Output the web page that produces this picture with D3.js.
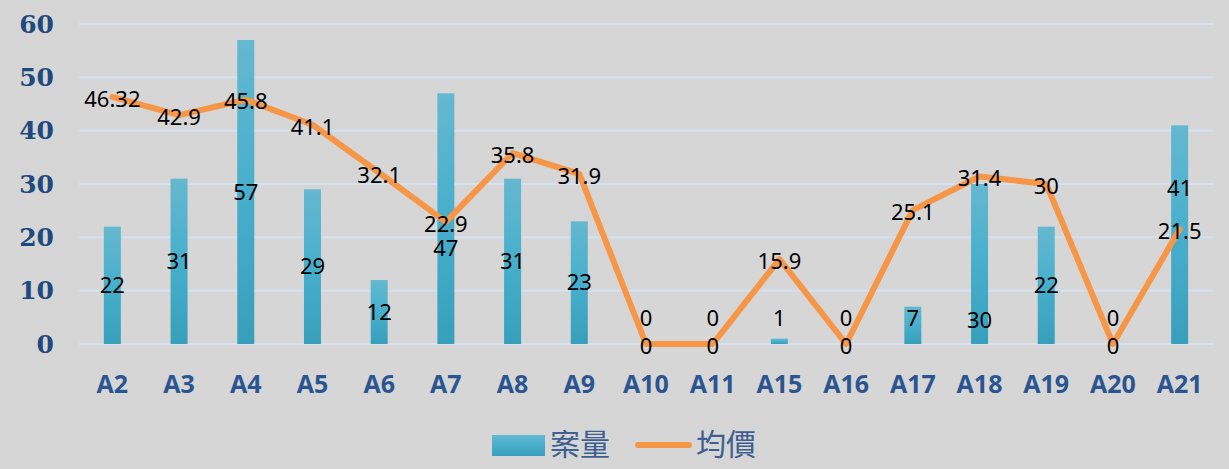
<!DOCTYPE html>
<html>
<head>
<meta charset="utf-8">
<script src="https://cdn.jsdelivr.net/npm/d3@7/dist/d3.min.js"></script>
<style>
  body { margin: 0; background: #d6d6d6; }
  svg { display: block; }
</style>
</head>
<body>
<div id="chart"></div>
<script>
var categories = ["A2", "A3", "A4", "A5", "A6", "A7", "A8", "A9", "A10", "A11", "A15", "A16", "A17", "A18", "A19", "A20", "A21"];
var caseCounts = [22, 31, 57, 29, 12, 47, 31, 23, 0, 0, 1, 0, 7, 30, 22, 0, 41];
var avgPrices = [46.32, 42.9, 45.8, 41.1, 32.1, 22.9, 35.8, 31.9, 0, 0, 15.9, 0, 25.1, 31.4, 30, 0, 21.5];
var yTicks = [0, 10, 20, 30, 40, 50, 60];
var seriesNames = ["案量", "均價"];

// some bar labels were nudged in the original to dodge the line labels (px)
var labelNudge = { A7: 30, A18: 56, A21: -46 };

var width = 1229, height = 469;
var margin = { left: 79, right: 16, top: 24, bottom: 125 };

var svg = d3.select("#chart").append("svg")
    .attr("width", width)
    .attr("height", height);

svg.append("rect").attr("width", width).attr("height", height).attr("fill", "#d6d6d6");

var x = d3.scaleBand()
    .domain(categories)
    .range([margin.left, width - margin.right]);

var y = d3.scaleLinear()
    .domain([0, 60])
    .range([height - margin.bottom, margin.top]);

var defs = svg.append("defs");
var grad = defs.append("linearGradient")
    .attr("id", "barGrad")
    .attr("x1", 0).attr("y1", 0).attr("x2", 0).attr("y2", 1);
grad.append("stop").attr("offset", "0%").attr("stop-color", "#65b8d0");
grad.append("stop").attr("offset", "50%").attr("stop-color", "#47afcc");
grad.append("stop").attr("offset", "100%").attr("stop-color", "#389fbb");

// gridlines
svg.append("g")
    .selectAll("line")
    .data(yTicks)
    .join("line")
    .attr("x1", margin.left)
    .attr("x2", width - margin.right)
    .attr("y1", d => y(d))
    .attr("y2", d => y(d))
    .attr("stroke", "#d3e1f1")
    .attr("stroke-width", 2);

// y axis labels
svg.append("g")
    .selectAll("text")
    .data(yTicks)
    .join("text")
    .attr("x", 54)
    .attr("y", d => y(d))
    .attr("dy", "0.35em")
    .attr("text-anchor", "end")
    .attr("font-family", "DejaVu Serif")
    .attr("font-weight", "bold")
    .attr("font-size", 25)
    .attr("fill", "#1f4a7f")
    .text(d => d);

// x axis labels
svg.append("g")
    .selectAll("text")
    .data(categories)
    .join("text")
    .attr("x", d => x(d) + x.bandwidth() / 2)
    .attr("y", 393)
    .attr("text-anchor", "middle")
    .attr("font-family", "Open Sans")
    .attr("font-weight", "bold")
    .attr("font-size", 25)
    .attr("fill", "#2b5590")
    .text(d => d);

var barW = 17;
var rows = categories.map((c, i) => ({ cat: c, cases: caseCounts[i], price: avgPrices[i] }));

// bars
svg.append("g")
    .selectAll("rect")
    .data(rows)
    .join("rect")
    .attr("x", d => x(d.cat) + x.bandwidth() / 2 - barW / 2)
    .attr("y", d => y(d.cases))
    .attr("width", barW)
    .attr("height", d => y(0) - y(d.cases))
    .attr("fill", "url(#barGrad)");

// line
var line = d3.line()
    .x(d => x(d.cat) + x.bandwidth() / 2)
    .y(d => y(d.price));

svg.append("path")
    .datum(rows)
    .attr("d", line)
    .attr("fill", "none")
    .attr("stroke", "#f79646")
    .attr("stroke-width", 6)
    .attr("stroke-linejoin", "round")
    .attr("stroke-linecap", "round");

// bar labels (centred, but kept above the axis for short bars)
svg.append("g")
    .selectAll("text")
    .data(rows)
    .join("text")
    .attr("x", d => x(d.cat) + x.bandwidth() / 2)
    .attr("y", d => {
        var mid = (y(d.cases) + y(0)) / 2;
        return Math.min(mid, y(0) - 26) + (labelNudge[d.cat] || 0);
    })
    .attr("dy", "0.35em")
    .attr("text-anchor", "middle")
    .attr("font-family", "Noto Sans")
    .attr("font-size", 22)
    .attr("fill", "#000")
    .text(d => d.cases);

// line labels
svg.append("g")
    .selectAll("text")
    .data(rows)
    .join("text")
    .attr("x", d => x(d.cat) + x.bandwidth() / 2)
    .attr("y", d => y(d.price) + 2)
    .attr("dy", "0.35em")
    .attr("text-anchor", "middle")
    .attr("font-family", "Noto Sans")
    .attr("font-size", 22)
    .attr("fill", "#000")
    .text(d => d.price);

// legend
var lg = svg.append("g");
lg.append("rect")
    .attr("x", 492).attr("y", 435)
    .attr("width", 53).attr("height", 21)
    .attr("fill", "url(#barGrad)");
lg.append("text")
    .attr("x", 550).attr("y", 444)
    .attr("dy", "0.38em")
    .attr("font-family", "Noto Sans CJK TC")
    .attr("font-size", 30)
    .attr("fill", "#3e5f8f")
    .text(seriesNames[0]);
lg.append("line")
    .attr("x1", 638).attr("x2", 689)
    .attr("y1", 445).attr("y2", 445)
    .attr("stroke", "#f79646")
    .attr("stroke-width", 6)
    .attr("stroke-linecap", "round");
lg.append("text")
    .attr("x", 696).attr("y", 444)
    .attr("dy", "0.38em")
    .attr("font-family", "Noto Sans CJK TC")
    .attr("font-size", 30)
    .attr("fill", "#3e5f8f")
    .text(seriesNames[1]);
</script>
</body>
</html>
